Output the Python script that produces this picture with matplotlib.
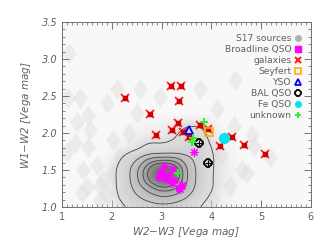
import numpy as np
import matplotlib
matplotlib.use('Agg')
import matplotlib.pyplot as plt
from matplotlib.colors import LinearSegmentedColormap
from matplotlib.lines import Line2D
from matplotlib.ticker import MultipleLocator

# density grid of the S17 sources (columns = W2-W3, rows = W1-W2)
grid_x = [1.75, 2.0, 2.25, 2.5, 2.75, 3.0, 3.25, 3.5, 3.75, 4.0, 4.25, 4.5, 4.75]
grid_y = [0.875, 1.0, 1.125, 1.25, 1.375, 1.5, 1.625, 1.75, 1.875, 2.0, 2.125, 2.25]
density = [
    [0, 0.3, 0.9, 1.6, 2.2, 2.4, 2.2, 1.6, 1.0, 0.4, 0.2, 0.1, 0],
    [0, 0.3, 0.9, 1.6, 2.2, 2.4, 2.2, 1.6, 1.0, 0.4, 0.2, 0.1, 0],
    [0, 0.5, 1.5, 2.8, 3.8, 4.6, 4.2, 3.0, 1.6, 0.7, 0.3, 0.1, 0],
    [0, 0.6, 1.8, 3.8, 5.8, 7.5, 6.8, 4.2, 2.2, 1.0, 0.4, 0.1, 0],
    [0, 0.6, 1.9, 4.6, 8.5, 12.0, 9.8, 4.6, 2.3, 1.0, 0.4, 0.2, 0],
    [0, 0.6, 1.9, 4.6, 8.5, 12.0, 9.8, 4.6, 2.3, 1.0, 0.5, 0.2, 0],
    [0, 0.4, 1.4, 3.2, 5.8, 6.5, 6.2, 3.8, 2.2, 1.1, 0.4, 0.1, 0],
    [0, 0.2, 0.6, 1.0, 1.8, 1.8, 2.0, 2.2, 2.0, 1.0, 0.3, 0.1, 0],
    [0, 0, 0.3, 0.5, 0.9, 0.8, 1.1, 1.6, 1.6, 0.8, 0.2, 0, 0],
    [0, 0, 0.1, 0.3, 0.4, 0.4, 0.8, 1.4, 1.4, 0.6, 0.1, 0, 0],
    [0, 0, 0, 0.1, 0.2, 0.3, 0.5, 0.8, 0.8, 0.4, 0, 0, 0],
    [0, 0, 0, 0, 0, 0, 0, 0, 0, 0, 0, 0, 0],
]
contour_levels = [1.0, 3.0, 4.8, 6.4, 7.8]

# faint background clumps of S17 sources
bg_x = [1.13, 1.12, 1.36, 1.52, 1.90, 2.10, 2.57, 2.50, 2.97, 1.30, 1.56, 1.26, 1.52,
        1.09, 1.43, 1.70, 1.50, 1.83, 1.90, 2.17, 2.03, 4.81, 5.18, 4.61, 4.48, 4.11,
        4.45, 4.85, 4.71, 4.38, 4.04, 1.76, 2.03, 1.76, 1.40, 3.78, 2.35, 4.2]
bg_y = [3.08, 2.47, 2.47, 2.24, 2.40, 2.60, 2.60, 2.27, 2.49, 2.15, 2.04, 1.86, 1.81,
        1.75, 1.50, 1.57, 1.27, 1.36, 1.16, 1.68, 1.90, 1.97, 1.68, 1.50, 2.72, 2.32,
        2.09, 1.82, 1.46, 1.28, 1.10, 1.28, 1.46, 1.10, 1.19, 2.59, 2.00, 1.7]

bl_x = [3.04, 2.98, 2.95, 3.00, 3.08, 3.12, 3.22, 3.25, 3.20, 3.35, 3.42, 3.38, 3.66]
bl_y = [1.56, 1.48, 1.41, 1.43, 1.38, 1.43, 1.52, 1.37, 1.33, 1.26, 1.30, 1.24, 1.75]
gal_x = [2.27, 3.18, 3.39, 3.36, 2.77, 2.88, 3.33, 3.21, 3.44, 3.55, 3.78, 3.94, 4.18, 4.41, 4.65, 5.07]
gal_y = [2.48, 2.64, 2.64, 2.43, 2.26, 1.97, 2.14, 2.04, 2.02, 1.95, 2.11, 2.05, 1.82, 1.95, 1.84, 1.72]
sey_x, sey_y = [3.96], [2.02]
yso_x, yso_y = [3.55], [2.04]
bal_x, bal_y = [3.76, 3.94], [1.87, 1.60]
fe_x, fe_y = [4.26], [1.93]
unk_x = [3.86, 3.64, 3.61, 3.33]
unk_y = [2.15, 1.93, 1.88, 1.46]


# upsample the coarse grid linearly and soften it a little
def refine(xs, ys, z, n=10):
    fx = np.linspace(xs[0], xs[-1], (len(xs) - 1) * n + 1)
    fy = np.linspace(ys[0], ys[-1], (len(ys) - 1) * n + 1)
    tmp = np.array([np.interp(fx, xs, row) for row in z])
    fz = np.array([np.interp(fy, ys, col) for col in tmp.T]).T
    k = np.ones(n) / n
    fz = np.apply_along_axis(lambda r: np.convolve(r, k, mode='same'), 1, fz)
    fz = np.apply_along_axis(lambda c: np.convolve(c, k, mode='same'), 0, fz)
    return fx, fy, fz


fx, fy, fz = refine(grid_x, grid_y, np.array(density))

grey = '#606060'
fig = plt.figure(figsize=(3.3, 2.48), dpi=100)
ax = fig.add_axes([0.188, 0.165, 0.754, 0.746])
ax.set_facecolor('#f8f8f8')

rhomb = [(0, 1), (0.72, 0), (0, -1), (-0.72, 0), (0, 1)]
ax.plot(bg_x, bg_y, ls='none', marker=rhomb, ms=15, mfc='#e0e0e0', mec='none', alpha=0.5, zorder=1)

cmap = LinearSegmentedColormap.from_list('dens', [(0.0, (0.88, 0.88, 0.88, 0.0)),
                                                  (0.08, (0.85, 0.85, 0.85, 0.8)),
                                                  (1.0, (0.45, 0.45, 0.45, 1.0))])
ax.imshow(fz, origin='lower', extent=[fx[0], fx[-1], fy[0], fy[-1]], aspect='auto',
          interpolation='bilinear', cmap=cmap, vmin=0, vmax=10.5, zorder=2)
ax.contour(fx, fy, fz, levels=contour_levels, colors='#444444', linewidths=0.6, zorder=3)

ax.plot(gal_x, gal_y, ls='none', marker='x', ms=6, mew=1.3, color='#ff2020', zorder=5)
ax.plot(gal_x, gal_y, ls='none', marker='s', ms=2.5, color='#d00000', zorder=5)
ax.plot(bl_x, bl_y, ls='none', marker=(8, 2, 0), ms=6, mew=0.8, color='#ff00ff', zorder=6)
ax.plot(sey_x, sey_y, ls='none', marker='s', ms=6, mew=1.2, mfc='none', mec='#ffb000', zorder=6)
ax.plot(yso_x, yso_y, ls='none', marker='^', ms=6, mew=1.3, mfc='none', mec='#0000ff', zorder=6)
ax.plot(bal_x, bal_y, ls='none', marker='8', ms=5.5, mew=1.3, mfc='none', mec='black', zorder=6)
ax.plot(bal_x, bal_y, ls='none', marker='+', ms=4, mew=0.8, color='black', zorder=6)
ax.plot(fe_x, fe_y, ls='none', marker='o', ms=7, color='#00e5ee', zorder=6)
ax.plot(unk_x, unk_y, ls='none', marker='P', ms=6, mew=0, color='#33ee33', zorder=7)

handles = [
    Line2D([], [], ls='none', marker='o', ms=4, color='#b0b0b0'),
    Line2D([], [], ls='none', marker='s', ms=4, color='#ff00ff'),
    Line2D([], [], ls='none', marker='x', ms=4.5, mew=1.5, color='#ff2020'),
    Line2D([], [], ls='none', marker='s', ms=4.5, mew=1.2, mfc='none', mec='#ffb000'),
    Line2D([], [], ls='none', marker='^', ms=5, mew=1.3, mfc='none', mec='#0000ff'),
    Line2D([], [], ls='none', marker='8', ms=4.5, mew=1.3, mfc='none', mec='black'),
    Line2D([], [], ls='none', marker='o', ms=4, color='#00e5ee'),
    Line2D([], [], ls='none', marker='P', ms=5, mew=0, color='#33ee33'),
]
labels = ['S17 sources', 'Broadline QSO', 'galaxies', 'Seyfert', 'YSO', 'BAL QSO', 'Fe QSO', 'unknown']
ax.legend(handles, labels, loc='upper right', bbox_to_anchor=(0.985, 0.965), frameon=False,
          markerfirst=False, fontsize=6.6, labelcolor=grey, handlelength=0.8,
          handletextpad=0.3, labelspacing=0.22, borderpad=0.1)

ax.set_xlim(1, 6)
ax.set_ylim(1.0, 3.5)
ax.xaxis.set_major_locator(MultipleLocator(1))
ax.xaxis.set_minor_locator(MultipleLocator(0.1))
yt = [1.0, 1.5, 2.0, 2.5, 3.0, 3.5]
ax.set_yticks(yt)
ax.set_yticklabels([f'{v:.1f}' for v in yt], fontstyle='italic')
ax.yaxis.set_minor_locator(MultipleLocator(0.1))
ax.tick_params(which='both', direction='in', top=True, right=True, colors=grey, labelsize=7)
ax.tick_params(which='major', length=5, width=0.6)
ax.tick_params(which='minor', length=2.5, width=0.5)
for sp in ax.spines.values():
    sp.set_color('#707070')
    sp.set_linewidth(0.7)

ax.set_xlabel('W2$-$W3 [Vega mag]', fontsize=7.5, color=grey, style='italic', labelpad=2)
ax.set_ylabel('W1$-$W2 [Vega mag]', fontsize=7.5, color=grey, style='italic', labelpad=6)

fig.savefig('out.png', dpi=100)
